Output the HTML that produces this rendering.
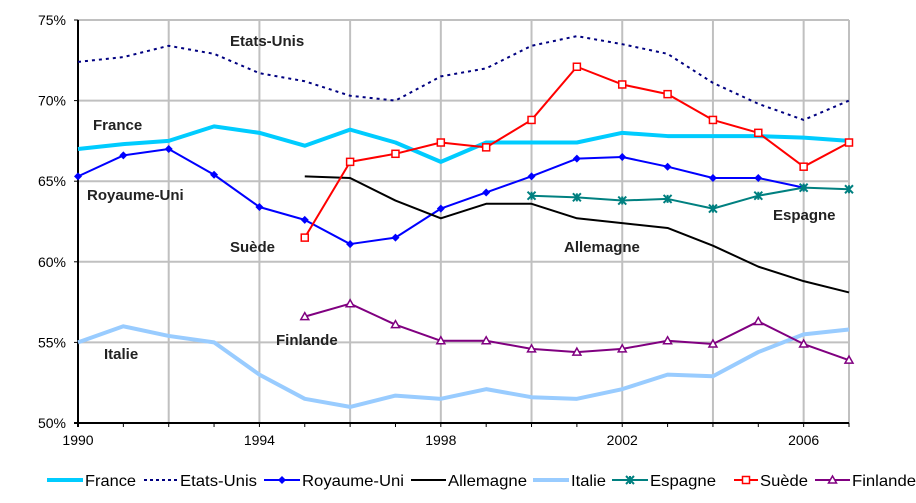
<!DOCTYPE html>
<html><head><meta charset="utf-8"><style>
body{margin:0;background:#fff;}
svg{display:block;font-family:"Liberation Sans",Arial,sans-serif;}
</style></head><body>
<svg id="chart" width="916" height="503"></svg>
<script>
const years=[1990,1991,1992,1993,1994,1995,1996,1997,1998,1999,2000,2001,2002,2003,2004,2005,2006,2007];
const yTicks=[50,55,60,65,70,75];
const xTicks=[1990,1994,1998,2002,2006];
const france=[67.0,67.3,67.5,68.4,68.0,67.2,68.2,67.4,66.2,67.4,67.4,67.4,68.0,67.8,67.8,67.8,67.7,67.5];
const usa=[72.4,72.7,73.4,72.9,71.7,71.2,70.3,70.0,71.5,72.0,73.4,74.0,73.5,72.9,71.1,69.8,68.8,70.0];
const uk=[65.3,66.6,67.0,65.4,63.4,62.6,61.1,61.5,63.3,64.3,65.3,66.4,66.5,65.9,65.2,65.2,64.6,null];
const germany=[null,null,null,null,null,65.3,65.2,63.8,62.7,63.6,63.6,62.7,62.4,62.1,61.0,59.7,58.8,58.1];
const italy=[55.0,56.0,55.4,55.0,53.0,51.5,51.0,51.7,51.5,52.1,51.6,51.5,52.1,53.0,52.9,54.4,55.5,55.8];
const spain=[null,null,null,null,null,null,null,null,null,null,64.1,64.0,63.8,63.9,63.3,64.1,64.6,64.5];
const sweden=[null,null,null,null,null,61.5,66.2,66.7,67.4,67.1,68.8,72.1,71.0,70.4,68.8,68.0,65.9,67.4];
const finland=[null,null,null,null,null,56.6,57.4,56.1,55.1,55.1,54.6,54.4,54.6,55.1,54.9,56.3,54.9,53.9];

const NS="http://www.w3.org/2000/svg";
const svg=document.getElementById('chart');
const X0=78,X1=849,Y0=423,Y1=20;
const x=v=>X0+(v-1990)/(2007-1990)*(X1-X0);
const y=v=>Y0-(v-50)/(75-50)*(Y0-Y1);
function mk(t,a,p){const e=document.createElementNS(NS,t);for(const k in a)e.setAttribute(k,a[k]);(p||svg).appendChild(e);return e;}

for(let yr=1992;yr<=2007;yr+=2){const l=mk('line',{x1:x(yr),x2:x(yr),y1:Y1,y2:Y0,stroke:'#c0c0c0','stroke-width':2});

}
for(const t of yTicks){if(t===50)continue;const l=mk('line',{x1:X0,x2:X1,y1:y(t),y2:y(t),stroke:'#c0c0c0','stroke-width':2});

}
const rb=mk('line',{x1:X1,x2:X1,y1:Y1,y2:Y0,stroke:'#c0c0c0','stroke-width':2});


const ya=mk('line',{x1:X0,x2:X0,y1:Y1,y2:Y0+4,stroke:'#000','stroke-width':2});


const xa=mk('line',{x1:X0-4,x2:X1,y1:Y0,y2:Y0,stroke:'#000','stroke-width':2});


for(const t of yTicks){mk('line',{x1:X0-4,x2:X0,y1:y(t),y2:y(t),stroke:'#000'});
const tx=mk('text',{x:X0-12,y:y(t)+5,'text-anchor':'end','font-size':14});tx.textContent=t+'%';

}
for(let yr=1990;yr<=2007;yr++){mk('line',{x1:x(yr),x2:x(yr),y1:Y0,y2:Y0+4,stroke:'#000'});}
for(const t of xTicks){const tx=mk('text',{x:x(t),y:445,'text-anchor':'middle','font-size':14});tx.textContent=t;

}

function marker(type,cx,cy,col,g){
 if(type==='diamond')mk('polygon',{points:`${cx},${cy-4} ${cx+4},${cy} ${cx},${cy+4} ${cx-4},${cy}`,fill:col},g);
 else if(type==='square')mk('rect',{x:cx-3.5,y:cy-3.5,width:7,height:7,fill:'#fff',stroke:col,'stroke-width':1.5},g);
 else if(type==='x'){mk('path',{d:`M${cx-4},${cy-4}L${cx+4},${cy+4}M${cx-4},${cy+4}L${cx+4},${cy-4}M${cx},${cy-4}L${cx},${cy+4}`,stroke:col,'stroke-width':2},g);}
 else if(type==='tri')mk('polygon',{points:`${cx},${cy-4} ${cx+4},${cy+3} ${cx-4},${cy+3}`,fill:'#fff',stroke:col,'stroke-width':1.5},g);
}
const series=[
 {n:'France',d:france,c:'#00ccff',w:4,name:'series-france'},
 {n:'Etats-Unis',d:usa,c:'#000080',w:2,dash:'3 4',name:'series-etats-unis'},
 {n:'Royaume-Uni',d:uk,c:'#0000ff',w:2,m:'diamond',name:'series-royaume-uni'},
 {n:'Allemagne',d:germany,c:'#000000',w:2,name:'series-allemagne'},
 {n:'Italie',d:italy,c:'#99ccff',w:4,name:'series-italie'},
 {n:'Espagne',d:spain,c:'#008080',w:2,m:'x',name:'series-espagne'},
 {n:'Suède',d:sweden,c:'#ff0000',w:2,m:'square',name:'series-suede'},
 {n:'Finlande',d:finland,c:'#800080',w:2,m:'tri',name:'series-finlande'}];
for(const s of series){
 const g=mk('g',{});
 
 
 const pts=[];s.d.forEach((v,i)=>{if(v!==null)pts.push([x(years[i]),y(v)]);});
 const a={points:pts.map(p=>p.join(',')).join(' '),fill:'none',stroke:s.c,'stroke-width':s.w,'stroke-linejoin':'round'};
 if(s.dash)a['stroke-dasharray']=s.dash;
 mk('polyline',a,g);
 if(s.m)pts.forEach(p=>marker(s.m,p[0],p[1],s.c,g));
}
const labels=[['Etats-Unis',230,46],['France',93,130],['Royaume-Uni',87,200],['Suède',230,252],['Allemagne',564,252],['Espagne',773,220],['Finlande',276,345],['Italie',104,359]];
for(const l of labels){const t=mk('text',{x:l[1],y:l[2],'font-size':15,'font-weight':'bold',fill:'#222'});t.textContent=l[0];

}
// legend
const lg=mk('g',{});


const legLine=[47,144,264,411,533,612,734,815];
const legText=[85,180,302,448,571,650,760,852];
const legW=[51,77,102,79,35,66,48,64];
series.forEach((s,i)=>{
 const e=mk('g',{},lg);
 
 
 const s0=legLine[i], len=legText[i]-legLine[i]-2;
 const a={x1:s0,x2:s0+len,y1:480,y2:480,stroke:s.c,'stroke-width':s.w};
 if(s.dash)a['stroke-dasharray']='3 3';
 mk('line',a,e);
 if(s.m)marker(s.m,s0+len/2,480,s.c,e);
 const t=mk('text',{x:legText[i],y:486,'font-size':16,textLength:legW[i],lengthAdjust:'spacingAndGlyphs'},e);t.textContent=s.n;
});
</script>
</body></html>
